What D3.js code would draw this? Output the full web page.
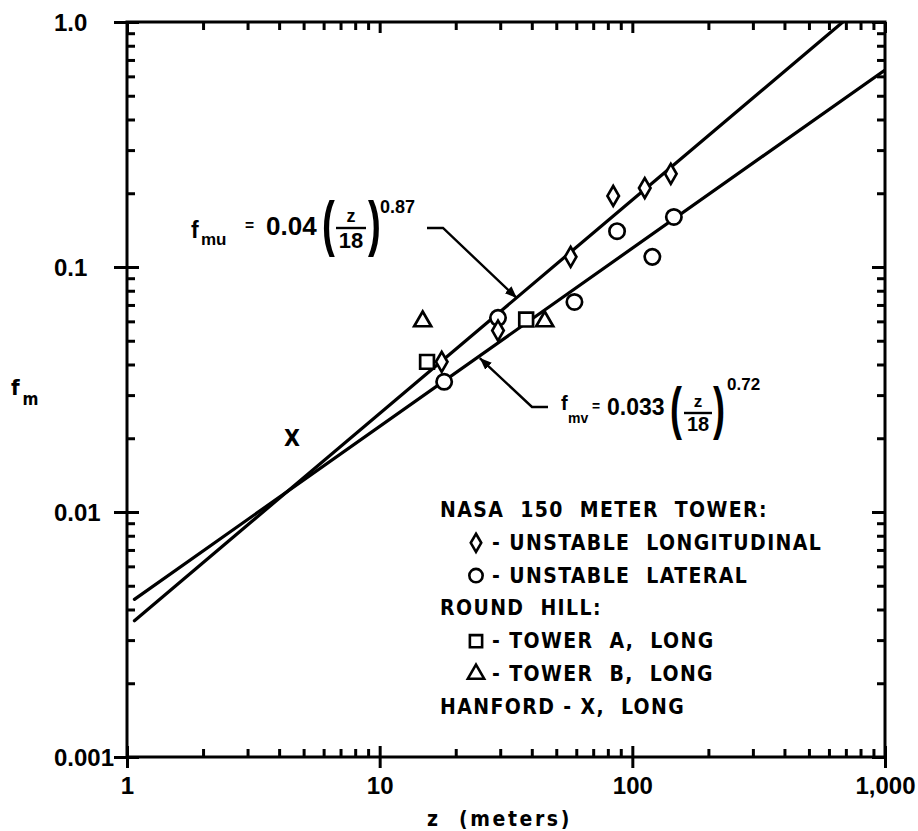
<!DOCTYPE html>
<html><head><meta charset="utf-8">
<script src="https://cdn.jsdelivr.net/npm/d3@7"></script>
<style>
body{margin:0;background:#fff}
svg{display:block}
.cond{font-family:"DejaVu Sans Condensed","Liberation Sans Narrow","DejaVu Sans",sans-serif;font-weight:bold;font-stretch:condensed}
.helv{font-family:"Liberation Sans",Arial,sans-serif;font-weight:bold}
</style>
</head><body>
<svg id="c" width="918" height="831"></svg>
<script>
// ---- data ----
const xTickValues = [1, 10, 100, 1000];
const xTickLabels = ["1", "10", "100", "1,000"];
const yTickValues = [0.001, 0.01, 0.1, 1];
const yTickLabels = ["0.001", "0.01", "0.1", "1.0"];

const nasaLongZ = [17.6, 29.4, 57, 84, 112, 142];
const nasaLongF = [0.041, 0.055, 0.11, 0.195, 0.21, 0.24];
const nasaLatZ = [18, 29.4, 59, 87, 120, 146];
const nasaLatF = [0.034, 0.062, 0.072, 0.14, 0.11, 0.16];
const towerAZ = [15.4, 38];
const towerAF = [0.041, 0.061];
const towerBZ = [14.8, 45];
const towerBF = [0.06, 0.06];
const hanfordZ = [4.5];
const hanfordF = [0.02];

const fitMuZ = [1.07, 681];
const fitMuF = [0.0036, 1.0];
const fitMvZ = [1.07, 1000];
const fitMvF = [0.0044, 0.637];

const legendLines = [
  {marker: null, text: "NASA  150  METER  TOWER:"},
  {marker: "diamond", text: "- UNSTABLE  LONGITUDINAL"},
  {marker: "circle", text: "- UNSTABLE  LATERAL"},
  {marker: null, text: "ROUND  HILL:"},
  {marker: "square", text: "- TOWER  A,  LONG"},
  {marker: "triangle", text: "- TOWER  B,  LONG"},
  {marker: null, text: "HANFORD - X,  LONG"}
];

// ---- layout ----
const L = 127, R = 885, T = 22, B = 757;
const svg = d3.select("#c");
const x = d3.scaleLog().domain([1, 1000]).range([L, R]);
const y = d3.scaleLog().domain([0.001, 1]).range([B, T]);

function minors(domain) {
  const out = [];
  for (let d = domain[0]; d < domain[1]; d *= 10)
    for (let k = 2; k <= 9; k++) out.push(d * k);
  return out;
}
const xMinor = minors([1, 1000]);
const yMinor = minors([0.001, 1]);

function styleAxis(g) {
  g.select(".domain").remove();
  g.selectAll("line").attr("stroke", "#000").attr("stroke-width", 3);
}

// minor ticks (inward)
svg.append("g").attr("transform", `translate(${L},0)`)
  .call(d3.axisRight(y).tickValues(yMinor).tickSize(8).tickFormat("")).call(styleAxis);
svg.append("g").attr("transform", `translate(${R},0)`)
  .call(d3.axisLeft(y).tickValues(yMinor).tickSize(8).tickFormat("")).call(styleAxis);
svg.append("g").attr("transform", `translate(0,${B})`)
  .call(d3.axisTop(x).tickValues(xMinor).tickSize(8).tickFormat("")).call(styleAxis);
svg.append("g").attr("transform", `translate(0,${T})`)
  .call(d3.axisBottom(x).tickValues(xMinor).tickSize(8).tickFormat("")).call(styleAxis);

// major ticks
svg.append("g").attr("transform", `translate(${L},0)`)
  .call(d3.axisRight(y).tickValues(yTickValues).tickSize(12).tickFormat("")).call(styleAxis);
svg.append("g").attr("transform", `translate(${R},0)`)
  .call(d3.axisLeft(y).tickValues(yTickValues).tickSize(13).tickFormat("")).call(styleAxis);
svg.append("g").attr("transform", `translate(0,${B})`)
  .call(d3.axisTop(x).tickValues(xTickValues).tickSize(11).tickFormat("")).call(styleAxis);
svg.append("g").attr("transform", `translate(0,${T})`)
  .call(d3.axisBottom(x).tickValues(xTickValues).tickSize(11).tickFormat("")).call(styleAxis);

// left axis with labels (outward ticks)
const yAx = svg.append("g").attr("transform", `translate(${L},0)`)
  .call(d3.axisLeft(y).tickValues(yTickValues).tickSize(13)
    .tickFormat((d, i) => yTickLabels[i]));
yAx.call(styleAxis);
yAx.selectAll("text").attr("class", "helv").attr("font-size", 24)
  .attr("fill", "#000").attr("text-anchor", "start").attr("x", 54 - L).attr("dy", "0.36em");

// bottom axis with labels
const xAx = svg.append("g").attr("transform", `translate(0,${B})`)
  .call(d3.axisBottom(x).tickValues(xTickValues).tickSize(11)
    .tickFormat((d, i) => xTickLabels[i]));
xAx.call(styleAxis);
xAx.selectAll("text").attr("class", "helv").attr("font-size", 24)
  .attr("fill", "#000").attr("y", 37).attr("dy", 0);

// frame
svg.append("rect").attr("x", L).attr("y", T).attr("width", R - L).attr("height", B - T)
  .attr("fill", "none").attr("stroke", "#000").attr("stroke-width", 3);

// clip
svg.append("clipPath").attr("id", "clip").append("rect")
  .attr("x", L).attr("y", T).attr("width", R - L).attr("height", B - T);

const line = d3.line().x(d => x(d[0])).y(d => y(d[1]));
const plot = svg.append("g").attr("clip-path", "url(#clip)");
[[fitMuZ, fitMuF], [fitMvZ, fitMvF]].forEach(([zs, fs]) => {
  plot.append("path").datum(zs.map((z, i) => [z, fs[i]]))
    .attr("d", line).attr("fill", "none").attr("stroke", "#000").attr("stroke-width", 3.2)
    .attr("stroke-linecap", "round");
});

// markers
const shapes = {
  diamond: d3.symbol().type(d3.symbolDiamond).size(115),
  circle: d3.symbol().type(d3.symbolCircle).size(185),
  square: d3.symbol().type(d3.symbolSquare).size(190),
  triangle: d3.symbol().type(d3.symbolTriangle).size(125)
};
const legendShapes = {
  diamond: d3.symbol().type(d3.symbolDiamond).size(95),
  circle: d3.symbol().type(d3.symbolCircle).size(140),
  square: d3.symbol().type(d3.symbolSquare).size(150),
  triangle: d3.symbol().type(d3.symbolTriangle).size(115)
};
function drawSeries(zs, fs, shape) {
  plot.selectAll(null).data(zs.map((z, i) => [z, fs[i]])).enter()
    .append("path").attr("d", shapes[shape])
    .attr("transform", d => `translate(${x(d[0])},${y(d[1])})`)
    .attr("fill", "#fff").attr("stroke", "#000").attr("stroke-width", 2.7);
}
drawSeries(towerAZ, towerAF, "square");
drawSeries(towerBZ, towerBF, "triangle");
drawSeries(nasaLatZ, nasaLatF, "circle");
drawSeries(nasaLongZ, nasaLongF, "diamond");

plot.selectAll(null).data(hanfordZ.map((z, i) => [z, hanfordF[i]])).enter()
  .append("text").attr("class", "cond").attr("font-size", 23)
  .attr("x", d => x(d[0])).attr("y", d => y(d[1]) + 8)
  .attr("text-anchor", "middle").text("X");

// axis titles
svg.append("text").attr("class", "cond").attr("font-size", 21).attr("x", 427).attr("y", 826)
  .style("white-space", "pre").attr("letter-spacing", 2.6)
  .text("z  (meters)");
const fm = svg.append("text").attr("class", "cond").attr("x", 11).attr("y", 395);
fm.append("tspan").attr("font-size", 22).text("f");
fm.append("tspan").attr("font-size", 17).attr("dx", 3).attr("dy", 10).text("m");

// equations (layout offsets relative to the start of "f")
function equation(o) {
  const g = svg.append("g");
  const txt = (xx, yy, size, s, opts = {}) => g.append("text").attr("class", "helv")
    .attr("x", xx).attr("y", yy).attr("font-size", size)
    .attr("text-anchor", opts.anchor || "start").text(s);
  txt(o.x, o.fBase, o.fSize, "f");
  txt(o.x + o.subDx, o.subBase, o.subSize, o.sub);
  txt(o.x + o.eqDx, o.base - 4, o.coefSize * 0.6, "=");
  txt(o.x + o.coefDx, o.base, o.coefSize, o.coef);
  const paren = (xx, ch) => g.append("text").attr("class", "helv").attr("font-weight", "normal")
    .attr("font-size", o.parenSize).attr("x", xx).attr("y", o.barY + o.parenSize * 0.26)
    .attr("transform", `translate(${xx},0) scale(0.62,1) translate(${-xx},0)`)
    .text(ch);
  paren(o.x + o.lpDx, "(");
  const fx = o.x + o.fracDx;
  txt(fx, o.barY - 6, o.zSize, "z", {anchor: "middle"});
  g.append("line").attr("x1", fx - o.barHalf).attr("x2", fx + o.barHalf)
    .attr("y1", o.barY).attr("y2", o.barY).attr("stroke", "#000").attr("stroke-width", 2.4);
  txt(fx, o.barY + 4 + o.numSize * 0.72, o.numSize, "18", {anchor: "middle"});
  paren(o.x + o.rpDx, ")");
  txt(o.x + o.expDx, o.expBase, o.expSize, o.exp);
}
equation({x: 191, fBase: 238, fSize: 23, sub: "mu", subDx: 10, subBase: 245, subSize: 17,
  eqDx: 54, coefDx: 75, coef: "0.04", coefSize: 26, base: 235,
  lpDx: 131, fracDx: 160, barY: 228, barHalf: 15, zSize: 18, numSize: 22,
  rpDx: 177, parenSize: 62, expDx: 189, exp: "0.87", expBase: 213, expSize: 18});
equation({x: 561, fBase: 410, fSize: 20, sub: "mv", subDx: 7, subBase: 423, subSize: 14,
  eqDx: 31, coefDx: 46, coef: "0.033", coefSize: 23, base: 415,
  lpDx: 109, fracDx: 137, barY: 413, barHalf: 14, zSize: 17, numSize: 20,
  rpDx: 152, parenSize: 58, expDx: 166, exp: "0.72", expBase: 390, expSize: 17});

// leader arrows (tips anchored in data space)
const defs = svg.append("defs");
defs.append("marker").attr("id", "ah").attr("viewBox", "0 0 10 10").attr("refX", 10).attr("refY", 5)
  .attr("markerWidth", 5).attr("markerHeight", 5).attr("orient", "auto")
  .attr("markerUnits", "strokeWidth")
  .append("path").attr("d", "M0,1 L10,5 L0,9 Z").attr("fill", "#000");
const muTip = [34.9, 0.0747], mvTip = [24.9, 0.0425];
svg.append("path").attr("d", `M427,228 L443,228 L${x(muTip[0])},${y(muTip[1])}`)
  .attr("fill", "none").attr("stroke", "#000").attr("stroke-width", 2.4).attr("marker-end", "url(#ah)");
svg.append("path").attr("d", `M548,407 L532,407 L${x(mvTip[0])},${y(mvTip[1])}`)
  .attr("fill", "none").attr("stroke", "#000").attr("stroke-width", 2.4).attr("marker-end", "url(#ah)");

// legend
const lg = svg.append("g");
legendLines.forEach((row, i) => {
  const by = 517 + i * 32.8;
  if (row.marker) {
    lg.append("path").attr("d", legendShapes[row.marker])
      .attr("transform", `translate(476,${by - 7})`)
      .attr("fill", "#fff").attr("stroke", "#000").attr("stroke-width", 2.6);
  }
  lg.append("text").attr("class", "cond").attr("font-size", 21).attr("letter-spacing", 1.4)
    .attr("x", row.marker ? 492 : 440).attr("y", by)
    .style("white-space", "pre").text(row.text);
});
</script>
</body></html>
